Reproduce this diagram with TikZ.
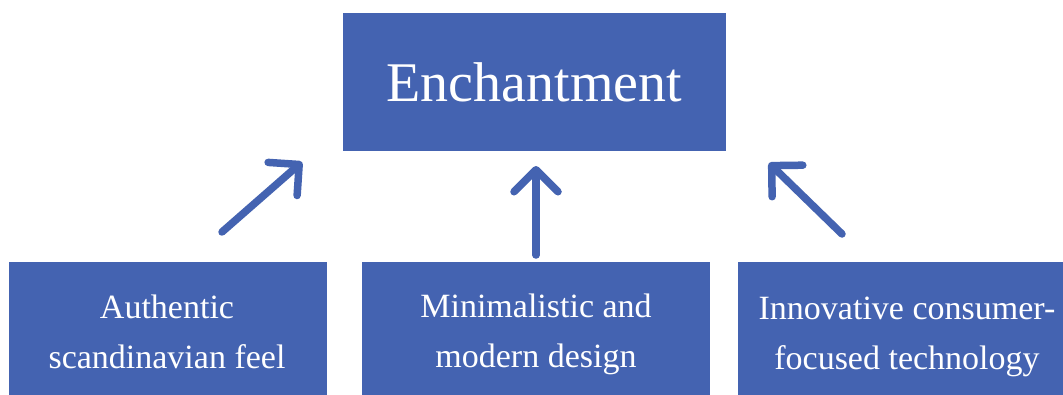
\documentclass[tikz,border=0pt]{standalone}
\usepackage{fontspec}
\setmainfont{Liberation Serif}
\usetikzlibrary{arrows.meta}
\definecolor{boxblue}{RGB}{68,99,177}
\begin{document}
\begin{tikzpicture}[x=1pt,y=-1pt,
  box/.style={fill=boxblue, draw=none, inner sep=0pt, text=white},
  lbl/.style={text=white, align=center, inner sep=0pt, font=\fontsize{34}{49.5}\selectfont},
  arr/.style={draw=boxblue, line width=7.5pt, line cap=round,
    -{Straight Barb[length=22pt,width=44pt,line cap=round,line join=round]}}]
\useasboundingbox (0,0) rectangle (1063,394);
\clip (0,0) rectangle (1063,394);
\fill[white] (0,0) rectangle (1063,394);
% top box
\node (top) [box, minimum width=383pt, minimum height=138pt, font=\fontsize{56}{60}\selectfont] at (534.5,82) {Enchantment};
% bottom boxes
\node (b1) [box, anchor=north west, minimum width=318pt, minimum height=160pt] at (9,262) {};
\node (b2) [box, anchor=north west, minimum width=348pt, minimum height=160pt] at (362,262) {};
\node (b3) [box, anchor=north west, minimum width=340pt, minimum height=160pt] at (738,262) {};
\node (t1) [lbl, anchor=base] at (167,368) {Authentic\\scandinavian feel};
\node (t2) [lbl, anchor=base] at (536,367) {Minimalistic and\\modern design};
\node (t3) [lbl, anchor=base] at (907,369) {Innovative consumer-\\focused technology};
% arrows
\coordinate (a1s) at (222,232);
\coordinate (a1e) at (302,162);
\coordinate (a2s) at (536,255);
\coordinate (a2e) at (536,166);
\coordinate (a3s) at (842,234);
\coordinate (a3e) at (769,163);
\draw[arr] (a1s) -- (a1e);
\draw[arr] (a2s) -- (a2e);
\draw[arr] (a3s) -- (a3e);
\end{tikzpicture}
\end{document}
